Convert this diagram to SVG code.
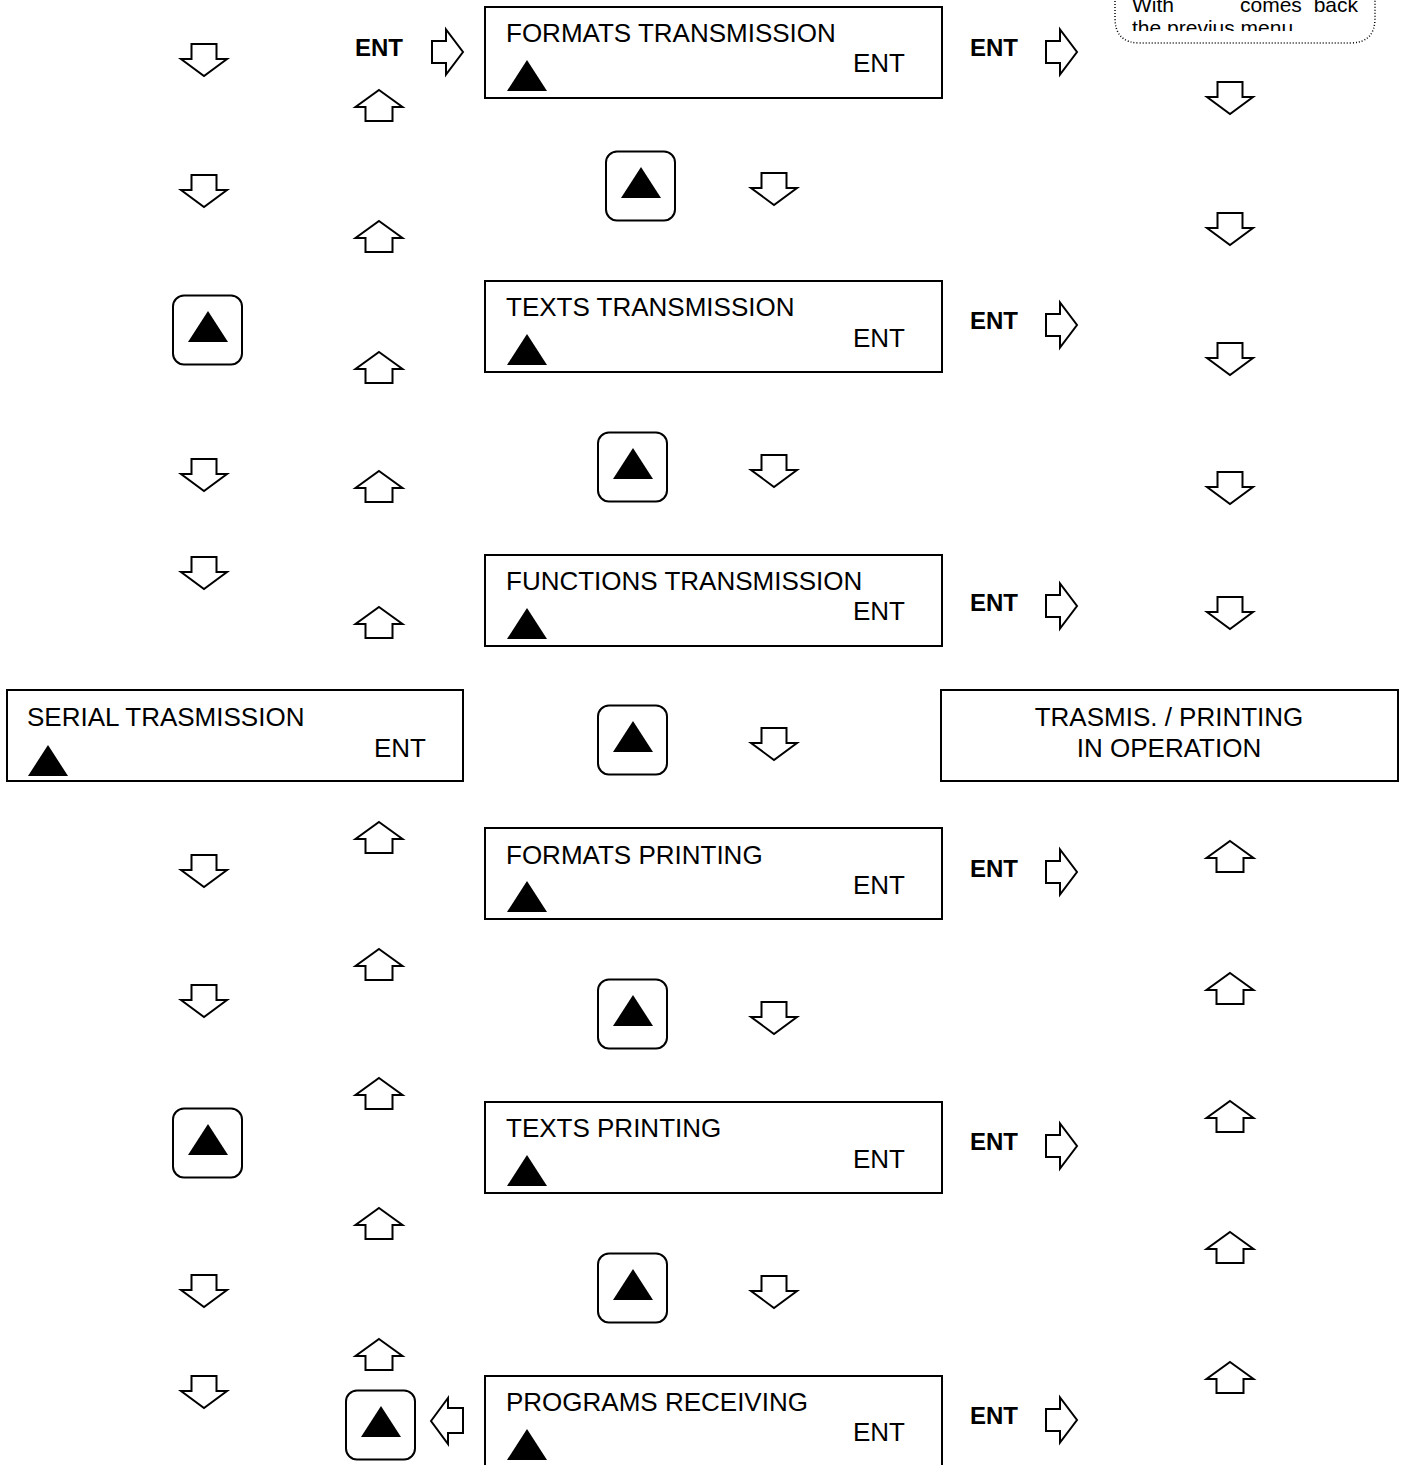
<svg xmlns="http://www.w3.org/2000/svg" width="1401" height="1465" viewBox="0 0 1401 1465">
<style>
.box{fill:#fff;stroke:#000;stroke-width:2}
.t{font-family:"Liberation Sans",Arial,sans-serif;font-size:26px;fill:#000}
.b{font-family:"Liberation Sans",Arial,sans-serif;font-size:24px;font-weight:bold;fill:#000}
.n{font-family:"Liberation Sans",Arial,sans-serif;font-size:21px;fill:#000}
.ar{fill:#fff;stroke:#000;stroke-width:2;stroke-linejoin:miter}
.key{fill:#fff;stroke:#000;stroke-width:2}
</style>
<defs>
<path id="dn" class="ar" d="M -12.5 0 H 12.5 V 15 H 23 L 0 32 L -23 15 H -12.5 Z"/>
<path id="up" class="ar" d="M 0 0 L 23.5 17 H 13.5 V 31 H -13.5 V 17 H -23.5 Z"/>
<path id="rt" class="ar" d="M 0 -11 H 14 V -22.5 L 31 0 L 14 22.5 V 11 H 0 Z"/>
<path id="lt" class="ar" d="M 0 0 L 17 -23 V -13 H 32 V 12 H 17 V 23 Z"/>
<path id="tri" d="M -20 31 L 20 31 L 0 0 Z" fill="#000"/>
<g id="keybtn">
<rect class="key" x="-35" y="-34.5" width="69" height="69" rx="11"/>
<path d="M 0 -19 L 20 12 L -20 12 Z" fill="#000"/>
</g>
<clipPath id="clipnote"><rect x="1100" y="0" width="300" height="31"/></clipPath>
</defs>

<g id="note">
<path d="M 1115 -5 V 18 Q 1115 43 1140 43 H 1350 Q 1375 43 1375 18 V -5" fill="#fff" stroke="#000" stroke-width="1.5" stroke-dasharray="1 2"/>
<text class="n" x="1132" y="12">With</text>
<text class="n" x="1240" y="12">comes</text>
<text class="n" x="1358" y="12" text-anchor="end">back</text>
<text class="n" x="1132" y="35" clip-path="url(#clipnote)">the previus menu</text>
</g>

<g id="n-formats-transmission">
<rect class="box" x="485" y="7" width="457" height="91"/>
<text class="t" x="506" y="42">FORMATS TRANSMISSION</text>
<text class="t" x="853" y="72">ENT</text>
<use href="#tri" x="527" y="60"/>
</g>
<g id="n-texts-transmission">
<rect class="box" x="485" y="281" width="457" height="91"/>
<text class="t" x="506" y="316">TEXTS TRANSMISSION</text>
<text class="t" x="853" y="347">ENT</text>
<use href="#tri" x="527" y="334"/>
</g>
<g id="n-functions-transmission">
<rect class="box" x="485" y="555" width="457" height="91"/>
<text class="t" x="506" y="590">FUNCTIONS TRANSMISSION</text>
<text class="t" x="853" y="620">ENT</text>
<use href="#tri" x="527" y="608"/>
</g>
<g id="n-formats-printing">
<rect class="box" x="485" y="828" width="457" height="91"/>
<text class="t" x="506" y="864">FORMATS PRINTING</text>
<text class="t" x="853" y="894">ENT</text>
<use href="#tri" x="527" y="881"/>
</g>
<g id="n-texts-printing">
<rect class="box" x="485" y="1102" width="457" height="91"/>
<text class="t" x="506" y="1137">TEXTS PRINTING</text>
<text class="t" x="853" y="1168">ENT</text>
<use href="#tri" x="527" y="1155"/>
</g>
<g id="n-programs-receiving">
<rect class="box" x="485" y="1376" width="457" height="100"/>
<text class="t" x="506" y="1411">PROGRAMS RECEIVING</text>
<text class="t" x="853" y="1441">ENT</text>
<use href="#tri" x="527" y="1429"/>
</g>
<g id="n-serial-trasmission">
<rect class="box" x="7" y="690" width="456" height="91"/>
<text class="t" x="27" y="726">SERIAL TRASMISSION</text>
<text class="t" x="374" y="757">ENT</text>
<use href="#tri" x="48" y="745"/>
</g>
<g id="n-in-operation">
<rect class="box" x="941" y="690" width="457" height="91"/>
<text class="t" x="1169" y="726" text-anchor="middle">TRASMIS. / PRINTING</text>
<text class="t" x="1169" y="757" text-anchor="middle">IN OPERATION</text>
</g>

<g id="keys">
<use href="#keybtn" x="641" y="186"/>
<use href="#keybtn" x="208" y="330"/>
<use href="#keybtn" x="633" y="467"/>
<use href="#keybtn" x="633" y="740"/>
<use href="#keybtn" x="633" y="1014"/>
<use href="#keybtn" x="208" y="1143"/>
<use href="#keybtn" x="633" y="1288"/>
<use href="#keybtn" x="381" y="1425"/>
</g>

<g id="ent-labels">
<text class="b" x="355" y="56">ENT</text>
<text class="b" x="970" y="56">ENT</text>
<text class="b" x="970" y="329">ENT</text>
<text class="b" x="970" y="611">ENT</text>
<text class="b" x="970" y="877">ENT</text>
<text class="b" x="970" y="1150">ENT</text>
<text class="b" x="970" y="1424">ENT</text>
</g>

<g id="connectors">
<use href="#rt" x="432" y="52"/>
<use href="#rt" x="1046" y="52"/>
<use href="#rt" x="1046" y="325"/>
<use href="#rt" x="1046" y="606"/>
<use href="#rt" x="1046" y="872"/>
<use href="#rt" x="1046" y="1146"/>
<use href="#rt" x="1046" y="1420"/>
<use href="#lt" x="431" y="1421"/>

<use href="#dn" x="204" y="44"/>
<use href="#dn" x="204" y="175"/>
<use href="#dn" x="204" y="459"/>
<use href="#dn" x="204" y="557"/>
<use href="#dn" x="204" y="855"/>
<use href="#dn" x="204" y="985"/>
<use href="#dn" x="204" y="1275"/>
<use href="#dn" x="204" y="1376"/>

<use href="#dn" x="774" y="173"/>
<use href="#dn" x="774" y="455"/>
<use href="#dn" x="774" y="728"/>
<use href="#dn" x="774" y="1002"/>
<use href="#dn" x="774" y="1276"/>

<use href="#dn" x="1230" y="82"/>
<use href="#dn" x="1230" y="213"/>
<use href="#dn" x="1230" y="343"/>
<use href="#dn" x="1230" y="472"/>
<use href="#dn" x="1230" y="597"/>

<use href="#up" x="379" y="90"/>
<use href="#up" x="379" y="221"/>
<use href="#up" x="379" y="352"/>
<use href="#up" x="379" y="471"/>
<use href="#up" x="379" y="607"/>
<use href="#up" x="379" y="822"/>
<use href="#up" x="379" y="949"/>
<use href="#up" x="379" y="1078"/>
<use href="#up" x="379" y="1208"/>
<use href="#up" x="379" y="1339"/>

<use href="#up" x="1230" y="841"/>
<use href="#up" x="1230" y="973"/>
<use href="#up" x="1230" y="1101"/>
<use href="#up" x="1230" y="1232"/>
<use href="#up" x="1230" y="1362"/>
</g>
</svg>
